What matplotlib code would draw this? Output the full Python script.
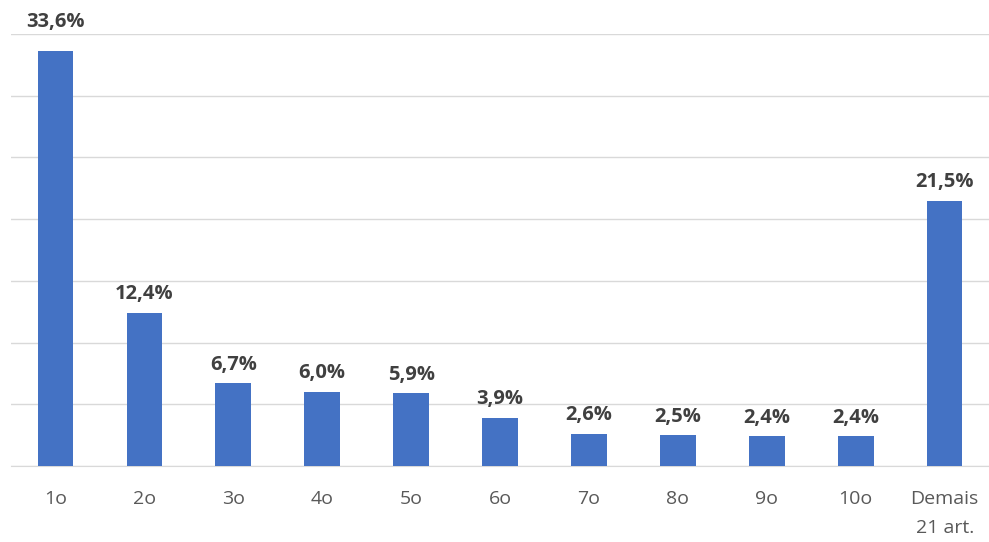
import matplotlib
matplotlib.use('Agg')
import matplotlib.pyplot as plt

# values
categories = ['1o', '2o', '3o', '4o', '5o', '6o', '7o', '8o', '9o', '10o', 'Demais\n21 art.']
values = [33.6, 12.4, 6.7, 6.0, 5.9, 3.9, 2.6, 2.5, 2.4, 2.4, 21.5]

plt.rcParams['font.family'] = ['Open Sans', 'DejaVu Sans']

fig = plt.figure(figsize=(9.89, 5.42), dpi=100)
ax = fig.add_axes([0.0111, 0.1402, 0.989, 0.797])

x = range(len(categories))
bars = ax.bar(x, values, width=0.4, color='#4472C4', zorder=3)

# data labels
for xi, v in zip(x, values):
    off = 1.6 if v > 30 else 0.7
    ax.text(xi, v + off, f'{v:.1f}%'.replace('.', ','), ha='center', va='bottom',
            fontsize=14.5, fontweight='bold', color='#404040')

ax.set_xlim(-0.5, len(categories) - 0.5)
ax.set_ylim(0, 35)
ax.set_yticks(range(0, 36, 5))
ax.set_yticklabels([])
ax.tick_params(axis='y', length=0)
ax.grid(axis='y', color='#d9d9d9', linewidth=1, zorder=0)

ax.set_xticks(list(x))
ax.set_xticklabels(categories, fontsize=14, color='#595959', linespacing=1.8)
ax.tick_params(axis='x', length=0, pad=17)

for side in ['left', 'right', 'top']:
    ax.spines[side].set_visible(False)
ax.spines['bottom'].set_color('#d9d9d9')

fig.savefig('out.png', dpi=100)
